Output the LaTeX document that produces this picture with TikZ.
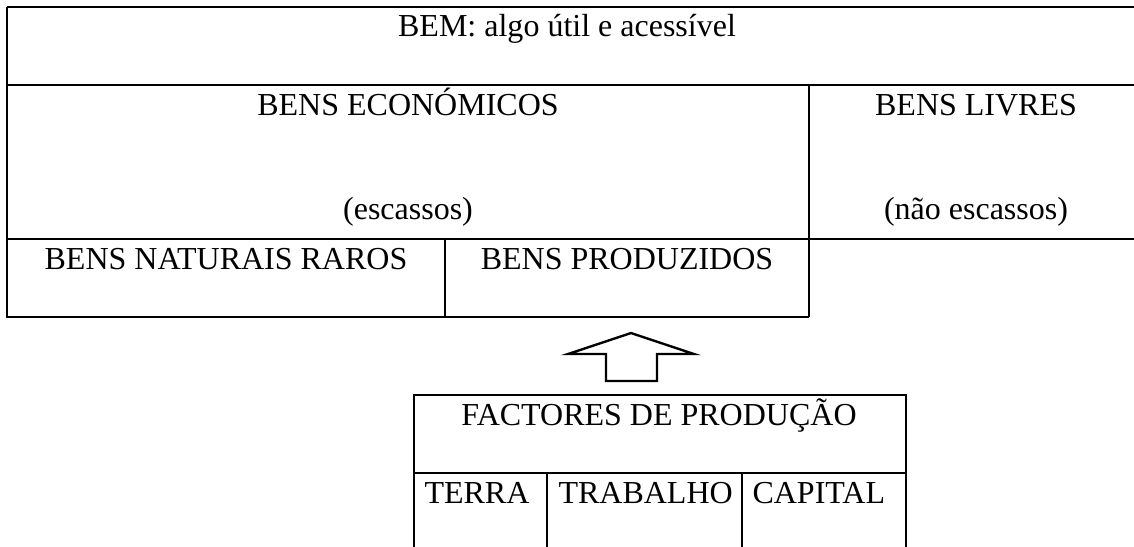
\documentclass[tikz,border=0pt]{standalone}
\usepackage{fontspec}
\setmainfont{Liberation Serif}
\begin{document}
\begin{tikzpicture}[x=0.375pt,y=-0.375pt,
  rule/.style={line width=0.9pt,black},
  txt/.style={anchor=base,inner sep=0pt,font=\fontsize{12pt}{14pt}\selectfont},
  ltxt/.style={anchor=base west,inner sep=0pt,font=\fontsize{12pt}{14pt}\selectfont}]
\clip (0,0) rectangle (1134,546);
% upper table
\draw[rule] (7,7)--(1150,7);
\draw[rule] (7,7)--(7,317)--(809,317);
\draw[rule] (7,85)--(1150,85);
\draw[rule] (7,239)--(1150,239);
\draw[rule] (809,85)--(809,317);
\draw[rule] (445,239)--(445,317);
% texts
\node[txt] (bem) at (567,36) {BEM: algo útil e acessível};
\node[txt] (econ) at (408,115) {BENS ECONÓMICOS};
\node[txt] (esc) at (408,219) {(escassos)};
\node[txt] (livres) at (976,115) {BENS LIVRES};
\node[txt] (naoesc) at (976,219) {(não escassos)};
\node[txt] (nat) at (226,269) {BENS NATURAIS RAROS};
\node[txt] (prod) at (627,269) {BENS PRODUZIDOS};
% arrow
\coordinate (tip) at (631,333);
\draw[rule,line join=miter] (606,381)--(606,354)--(568,354)--(tip)--(694,354)--(657,354)--(657,381)--cycle;
% lower table
\draw[rule] (414,560)--(414,395)--(906,395)--(906,560);
\draw[rule] (414,473)--(906,473);
\draw[rule] (547,473)--(547,560);
\draw[rule] (742,473)--(742,560);
\node[txt] (fact) at (659,425) {FACTORES DE PRODUÇÃO};
\node[ltxt] (terra) at (424,503) {TERRA};
\node[ltxt] (trab) at (558,503) {TRABALHO};
\node[ltxt] (cap) at (752,503) {CAPITAL};
\end{tikzpicture}
\end{document}
